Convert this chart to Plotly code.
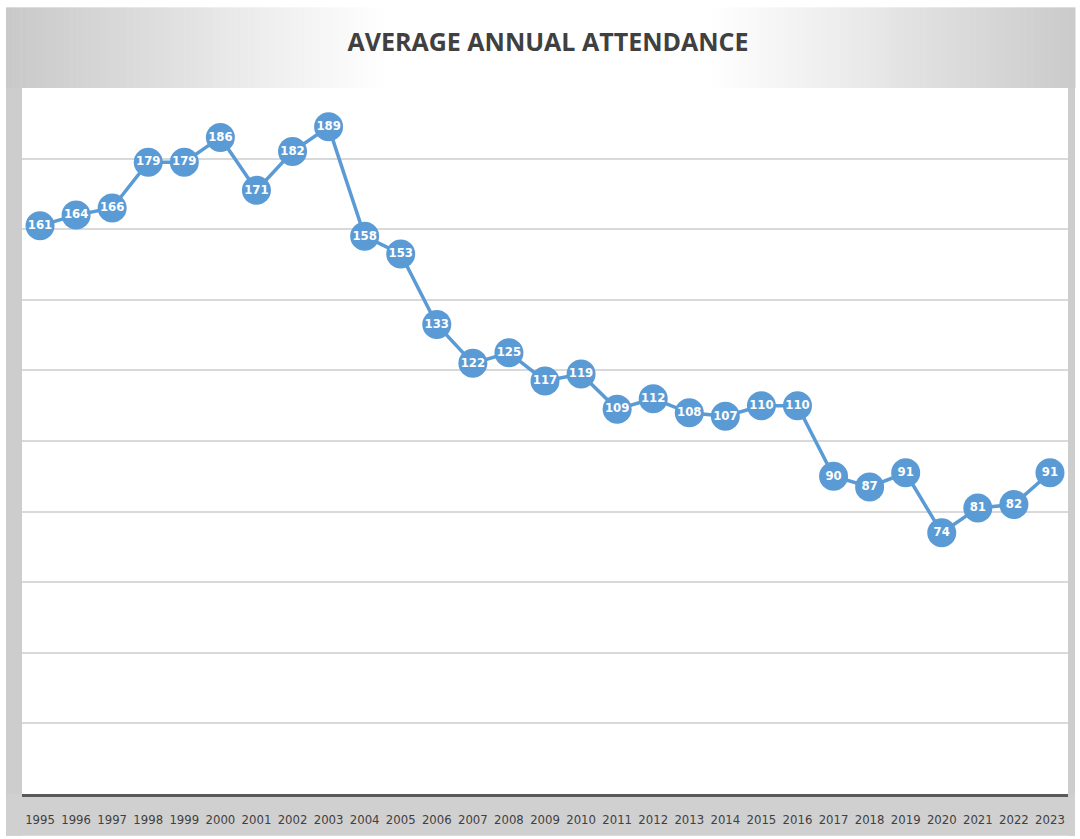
import plotly.graph_objects as go

years = [str(y) for y in range(1995, 2024)]
attendance = [161, 164, 166, 179, 179, 186, 171, 182, 189, 158, 153, 133, 122, 125,
              117, 119, 109, 112, 108, 107, 110, 110, 90, 87, 91, 74, 81, 82, 91]

W, H = 1080, 839
L, R, T, B = 22, 1068, 88, 797  # plot area in pixels

def px_x(p):
    return (p - L) / (R - L)

def px_y(p):
    return (B - p) / (B - T)

shapes = []

def rect(x0, y0, x1, y1, color):
    shapes.append(dict(type="rect", xref="paper", yref="paper",
                       x0=px_x(x0), x1=px_x(x1), y0=px_y(y1), y1=px_y(y0),
                       fillcolor=color, line=dict(width=0), layer="below"))

rect(6, 88, 22, 839, "rgb(205,205,205)")
rect(1068, 88, 1075, 839, "rgb(205,205,205)")
rect(6, 797, 1075, 839, "rgb(208,208,208)")
# top band gradient
n = 150
x_start, x_end = 6, 1075
cx = 548
for i in range(n):
    a = x_start + (x_end - x_start) * i / n
    b = x_start + (x_end - x_start) * (i + 1) / n + 0.5
    m = (a + b) / 2
    d = abs(m - cx) / (cx - x_start)
    t = min(1.0, max(0.0, (d - 0.3) / 0.7))
    v = int(round(255 - (255 - 200) * t))
    rect(a, 7, b, 88, "rgb(%d,%d,%d)" % (v, v, v))

NARROW = "DejaVu Sans Condensed, Liberation Sans Narrow, Roboto Condensed, Open Sans"

fig = go.Figure()
fig.add_trace(go.Scatter(
    x=years, y=attendance, mode="lines+markers+text",
    text=[str(v) for v in attendance], textposition="middle center",
    textfont=dict(family=NARROW, size=13, color="white", weight="bold"),
    line=dict(color="#5B9BD5", width=3.5),
    marker=dict(size=29, color="#5B9BD5", line=dict(width=0)),
    cliponaxis=False, hoverinfo="x+y",
))

fig.update_layout(
    width=W, height=H,
    margin=dict(l=L, r=W - R, t=T, b=H - B, pad=0),
    paper_bgcolor="white", plot_bgcolor="white",
    showlegend=False,
    shapes=shapes,
    title=dict(text="<b>AVERAGE ANNUAL ATTENDANCE</b>", x=548 / W, xanchor="center",
               y=1 - 42 / H, yanchor="middle", yref="container",
               font=dict(family="Open Sans", size=25, color="#404040")),
    xaxis=dict(type="category", range=[-0.5, len(years) - 0.5], showgrid=False,
               showline=True, linecolor="#595959", linewidth=2.5,
               ticks="", ticklabelstandoff=12,
               tickfont=dict(family=NARROW, size=13, color="#404040"),
               fixedrange=True),
    yaxis=dict(range=[0, 200], dtick=20, showgrid=True, gridcolor="#D9D9D9",
               gridwidth=1.5, showticklabels=False, zeroline=False, showline=False,
               fixedrange=True),
)

fig.write_html("out.html", config={"displayModeBar": False},
               post_script="document.body.style.margin='0';")
